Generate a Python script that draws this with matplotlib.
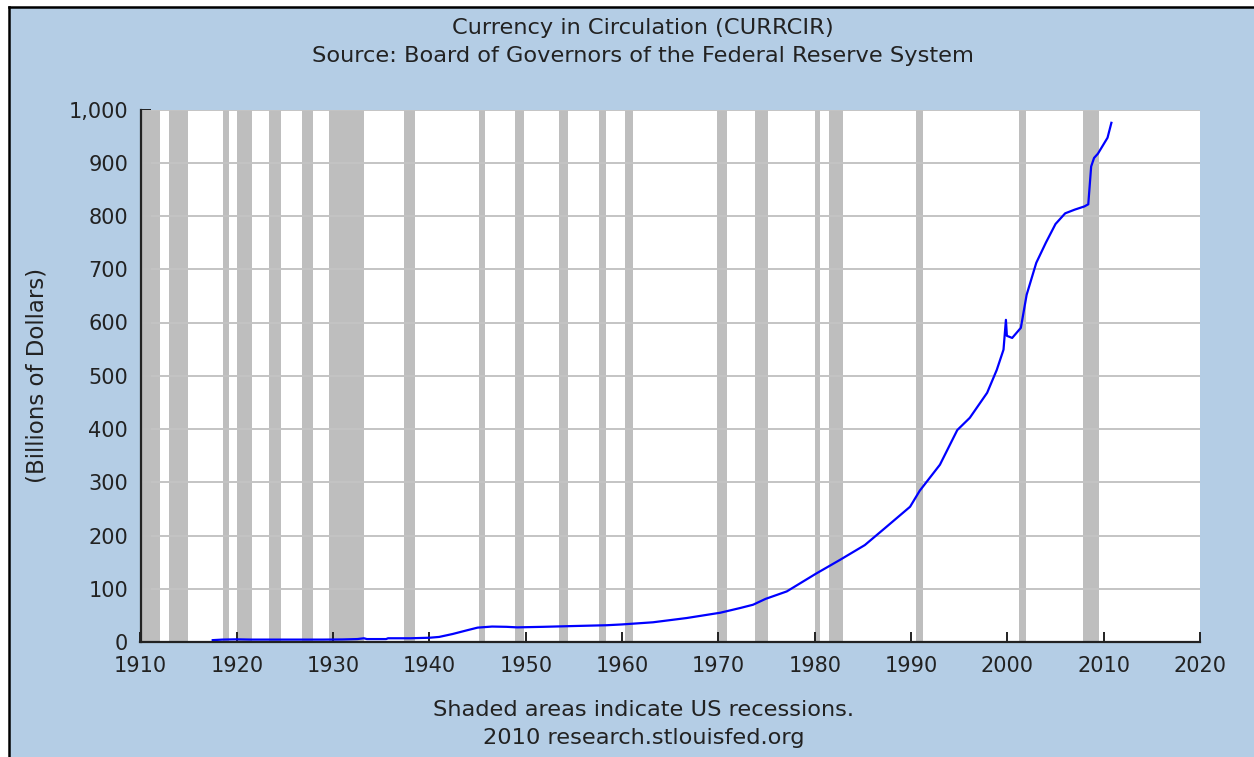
import matplotlib
matplotlib.use("Agg")
import matplotlib.pyplot as plt
from matplotlib.lines import Line2D
from matplotlib.patches import Rectangle
from matplotlib.ticker import FuncFormatter

# currency in circulation, billions of dollars
years = [1917.5, 1918.5, 1920.0, 1921.5, 1925.0, 1929.0, 1931.0, 1932.5, 1933.2,
         1933.5, 1935.5, 1935.7, 1938.0, 1940.0, 1941.0, 1942.4, 1943.9, 1945.0,
         1946.5, 1948.0, 1949.1, 1951.8, 1955.0, 1958.4, 1960.0, 1963.2, 1966.7,
         1970.2, 1972.3, 1973.6, 1974.9, 1977.1, 1980.1, 1982.6, 1985.2, 1987.3,
         1989.9, 1990.9, 1993.0, 1994.8, 1996.1, 1997.9, 1998.9, 1999.6, 1999.85,
         1999.95, 2000.5, 2001.4, 2002.0, 2003.0, 2004.0, 2005.0, 2006.0, 2007.0,
         2008.0, 2008.4, 2008.7, 2009.0, 2009.4, 2009.9, 2010.4, 2010.8]
values = [3.5, 4.5, 5.0, 4.5, 4.5, 4.5, 4.8, 5.5, 7.0,
          5.5, 5.5, 7.0, 7.0, 8.0, 9.5, 15, 22, 27,
          29, 28.5, 27.5, 28.5, 30, 31.5, 33, 37, 45,
          55, 64, 70, 81, 95, 128, 154, 182, 214,
          254, 284, 333, 398, 421, 468, 511, 549, 605,
          575, 571, 590, 652, 712, 750, 785, 805, 812,
          818, 822, 893, 909, 917, 932, 947, 975]

# NBER recessions (start, end)
recessions = [(1910.0, 1912.05), (1913.0, 1914.95), (1918.6, 1919.2), (1920.0, 1921.55),
              (1923.35, 1924.55), (1926.8, 1927.9), (1929.6, 1933.2), (1937.35, 1938.45),
              (1945.1, 1945.8), (1948.85, 1949.8), (1953.5, 1954.4), (1957.6, 1958.3),
              (1960.3, 1961.1), (1969.9, 1970.9), (1973.85, 1975.2), (1980.0, 1980.55),
              (1981.5, 1982.9), (1990.5, 1991.2), (2001.2, 2001.9), (2007.9, 2009.5)]

y_ticks = list(range(0, 1001, 100))
x_ticks = list(range(1910, 2021, 10))

BG = '#b4cde5'
FONT = 'DejaVu Sans'
TXT = '#222222'

fig = plt.figure(figsize=(12.54, 7.57), dpi=100)
fig.patch.set_facecolor('white')
fig.patches.append(Rectangle((9 / 1254, 0), 1, 1 - 7 / 757, transform=fig.transFigure,
                             facecolor=BG, edgecolor='none', zorder=-10))
fig.lines.append(Line2D([9 / 1254, 9 / 1254], [0, 1 - 7 / 757], transform=fig.transFigure,
                        color='black', lw=1.8))
fig.lines.append(Line2D([9 / 1254, 1], [1 - 7 / 757, 1 - 7 / 757], transform=fig.transFigure,
                        color='black', lw=1.8))

ax = fig.add_axes([140.5 / 1254, 1 - 642 / 757, (1200 - 140.5) / 1254, (642 - 109.5) / 757])
ax.set_facecolor('white')

for start, end in recessions:
    ax.axvspan(start, end, color='#bebebe', lw=0, zorder=1)

for v in y_ticks[1:]:
    ax.axhline(v, color='#c4c4c4', lw=1.4, zorder=2)

ax.plot(years, values, color='#0000ff', lw=1.6, zorder=3)

ax.set_xlim(1910, 2020)
ax.set_ylim(0, 1000)
ax.set_xticks(x_ticks)
ax.set_yticks(y_ticks)
ax.yaxis.set_major_formatter(FuncFormatter(lambda v, p: f'{int(v):,}'))

for side in ['top', 'right']:
    ax.spines[side].set_visible(False)
for side in ['left', 'bottom']:
    ax.spines[side].set_color('#222222')
    ax.spines[side].set_linewidth(1.6)
    ax.spines[side].set_zorder(4)

ax.tick_params(axis='both', direction='in', length=7, width=1.4, color='#222222',
               labelsize=15, labelcolor=TXT)
ax.tick_params(axis='y', pad=9)
ax.tick_params(axis='x', pad=10)
for lbl in ax.get_xticklabels() + ax.get_yticklabels():
    lbl.set_family(FONT)

ax.set_ylabel('(Billions of Dollars)', fontsize=16.5, color=TXT, family=FONT, labelpad=14)

fig.text(0.513, 1 - 28 / 757, 'Currency in Circulation (CURRCIR)', ha='center', va='center',
         fontsize=16.2, color=TXT, family=FONT)
fig.text(0.513, 1 - 56 / 757, 'Source: Board of Governors of the Federal Reserve System',
         ha='center', va='center', fontsize=16.2, color=TXT, family=FONT)
fig.text(0.513, 1 - 710 / 757, 'Shaded areas indicate US recessions.', ha='center', va='center',
         fontsize=16.2, color=TXT, family=FONT)
fig.text(0.513, 1 - 738 / 757, '2010 research.stlouisfed.org', ha='center', va='center',
         fontsize=16.2, color=TXT, family=FONT)

fig.savefig('out.png', dpi=100, facecolor=fig.get_facecolor())
